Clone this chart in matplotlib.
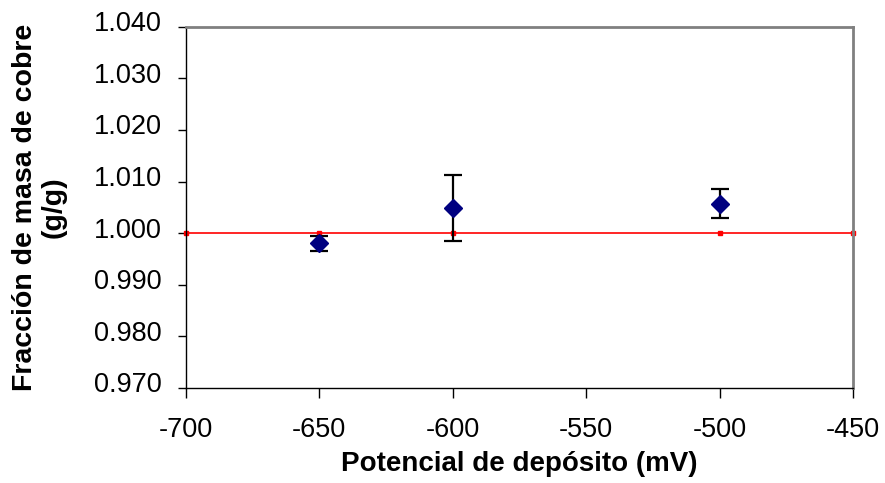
import matplotlib
matplotlib.use("Agg")
import matplotlib.pyplot as plt
from matplotlib.ticker import FormatStrFormatter
from matplotlib.transforms import ScaledTranslation

plt.rcParams["font.family"] = ["Liberation Sans", "DejaVu Sans"]
plt.rcParams["axes.unicode_minus"] = False

# data
potencial = [-650, -600, -500]
fraccion = [0.9980, 1.0049, 1.0057]
error = [0.0014, 0.0064, 0.0028]

ref_x = [-700, -650, -600, -500, -450]
ref_y = [1.000, 1.000, 1.000, 1.000, 1.000]

x_ticks = [-700, -650, -600, -550, -500, -450]
y_ticks = [0.970, 0.980, 0.990, 1.000, 1.010, 1.020, 1.030, 1.040]

fig = plt.figure(figsize=(8.85, 4.83), dpi=100)
ax = fig.add_axes([0.2098, 0.1967, 0.7540, 0.7480])

# reference line at 1.000
ax.plot(ref_x, ref_y, color="#ff0000", lw=1.2, marker="s", ms=3,
        mec="#ff0000", mfc="#ff0000", zorder=2, clip_on=False)

# measured values with error bars
ax.errorbar(potencial, fraccion, yerr=error, fmt="D", color="#000080",
            ms=9.5, ecolor="black", elinewidth=1.6, capsize=6.5,
            capthick=1.6, zorder=3)

ax.set_xlim(-700, -450)
ax.set_ylim(0.970, 1.040)
ax.set_xticks(x_ticks)
ax.set_yticks(y_ticks)
ax.yaxis.set_major_formatter(FormatStrFormatter("%.3f"))

ax.tick_params(axis="both", direction="out", labelsize=19.5, width=1,
               color="black")
ax.tick_params(axis="y", length=6, pad=11)
ax.tick_params(axis="x", length=7, pad=14)

# y tick labels sit a little above their ticks in the original
up = ScaledTranslation(0, 4 / 72, fig.dpi_scale_trans)
for lab in ax.get_yticklabels():
    lab.set_transform(lab.get_transform() + up)

for s in ["left", "bottom"]:
    ax.spines[s].set_color("black")
    ax.spines[s].set_linewidth(1)
for s in ["top", "right"]:
    ax.spines[s].set_color("#808080")
    ax.spines[s].set_linewidth(2)

ax.set_xlabel("Potencial de depósito (mV)", fontsize=20, fontweight="bold",
              labelpad=6)
ax.set_ylabel("Fracción de masa de cobre\n(g/g)", fontsize=20.5,
              fontweight="bold", labelpad=20, linespacing=1.1)

plt.savefig("out.png", dpi=100)
